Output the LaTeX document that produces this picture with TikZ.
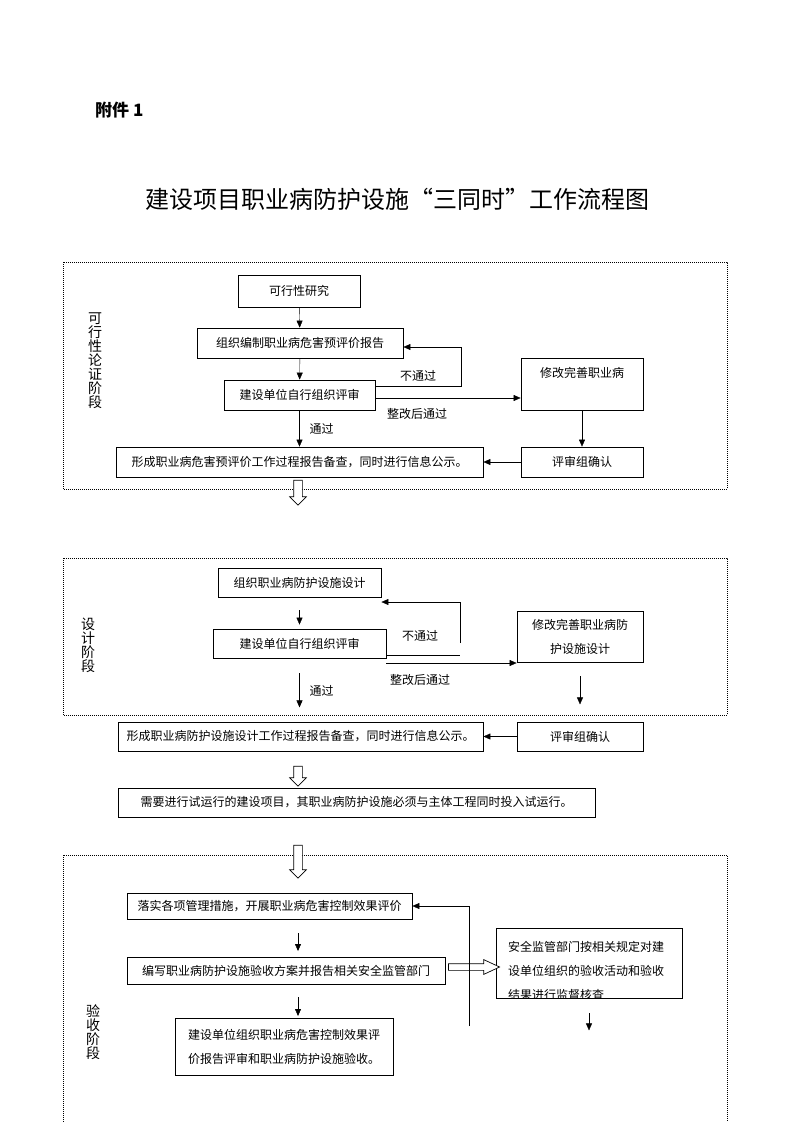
\documentclass[tikz,border=0pt]{standalone}
\usepackage{fontspec}
\setmainfont{Noto Sans CJK SC}
\usetikzlibrary{arrows.meta,shapes.arrows}
\newcommand\boxfont{\fontsize{12pt}{24pt}\selectfont}

\begin{document}
\begin{tikzpicture}[x=1pt,y=-1pt,>={Triangle[length=7pt,width=6pt]},
    box/.style={draw,line width=0.8pt,inner sep=0pt,font=\boxfont},
    lbl/.style={font=\boxfont,inner sep=0pt},
    side/.style={font=\fontsize{14pt}{14pt}\selectfont,align=center,inner sep=0pt},
    dotline/.style={line width=0.6pt,dash pattern=on 0.6pt off 1.4pt},
    fat/.style={single arrow,draw,fill=white,line width=0.7pt,inner xsep=0pt,inner ysep=4pt,single arrow head extend=4pt}]
    \useasboundingbox (0,0) rectangle (793,1122);

    \node[font=\fontsize{17pt}{17pt}\selectfont\bfseries,anchor=west,inner sep=0pt] (hd) at (95,110) {附件 1};
    \node[font=\fontsize{24pt}{24pt}\selectfont,inner sep=0pt] (tt) at (397,199) {建设项目职业病防护设施“三同时”工作流程图};

    % feasibility stage
    \draw[dotline] (63,262) rectangle (727,489);
    \node[side] (p1) at (95,361) {可\\行\\性\\论\\证\\阶\\段};
    \node[box,minimum width=122pt,minimum height=32pt] (a1) at (299,291) {可行性研究};
    \node[box,minimum width=206pt,minimum height=30pt] (a2) at (300,343) {组织编制职业病危害预评价报告};
    \node[box,minimum width=151pt,minimum height=30pt] (a3) at (299.5,395) {建设单位自行组织评审};
    \node[box,minimum width=122pt,minimum height=52pt,align=center] (a4) at (582,384) {修改完善职业病\\\mbox{}};
    \node[box,minimum width=122pt,minimum height=30pt] (a5) at (582,462) {评审组确认};
    \node[box,minimum width=367pt,minimum height=30pt] (a6) at (299.5,462) {形成职业病危害预评价工作过程报告备查，同时进行信息公示。};

    \draw[->] (a1) -- (a2);
    \draw[->] (a2) -- (a3);
    \draw[->] (a3) -- node[lbl,right=10pt] {通过} (a6);
    \draw[->] ([yshift=9pt]a3.east) -- ++(86,0) |- ([yshift=-4pt]a2.east);
    \node[lbl] (n1) at (418,376) {不通过};
    \coordinate (c1) at (375,398);
    \draw[->] (c1) -- (c1 -| a4.west);
    \node[lbl] (n2) at (417,414) {整改后通过};
    \draw[->] (a4) -- (a5);
    \draw[->] (a5) -- (a6);
    \node[fat,rotate=-90,minimum height=25pt] (f1) at (298,490.5) {};

    % design stage
    \draw[dotline] (63,558) rectangle (727,715);
    \node[side] (p2) at (88,645) {设\\计\\阶\\段};
    \node[box,minimum width=163pt,minimum height=29pt] (b1) at (299.5,582.5) {组织职业病防护设施设计};
    \node[box,minimum width=173pt,minimum height=29pt] (b2) at (299.5,643.5) {建设单位自行组织评审};
    \node[box,minimum width=126pt,minimum height=51pt,align=center] (b3) at (580,636.5) {修改完善职业病防\\护设施设计};

    \draw[->] ([yshift=-13pt]b1.south) -- ([yshift=4pt]b2.north);
    \coordinate (c2) at (460,643);
    \coordinate (c3) at (460,602);
    \draw[->] (c2) -- (c3) -- (c3 -| b1.east);
    \draw ([yshift=-11.5pt]b2.east) -- ++(74,0);
    \coordinate (c4) at (386,663);
    \draw[->] (c4) -- (c4 -| b3.west);
    \node[lbl] (n3) at (420,636) {不通过};
    \node[lbl] (n4) at (420,680) {整改后通过};
    \draw[->] ([yshift=-15pt]b2.south) -- node[lbl,right=10pt] {通过} ++(0,34);
    \draw[->] ([yshift=-14pt]b3.south) -- ++(0,28);

    \node[box,minimum width=365pt,minimum height=29pt] (b4) at (300.5,736.5) {形成职业病防护设施设计工作过程报告备查，同时进行信息公示。};
    \node[box,minimum width=126pt,minimum height=29pt] (b5) at (580,736.5) {评审组确认};
    \draw[->] (b5) -- (b4);
    \node[fat,rotate=-90,minimum height=20pt] (f2) at (298,774) {};
    \node[box,minimum width=477pt,minimum height=29pt] (b6) at (356.5,802.5) {需要进行试运行的建设项目，其职业病防护设施必须与主体工程同时投入试运行。};

    % acceptance stage
    \draw[dotline] (63,1122) -- (63,855) -- (727,855) -- (727,1122);
    \node[fat,rotate=-90,minimum height=33pt] (f3) at (298,859.5) {};
    \node[side] (p3) at (93,1032) {验\\收\\阶\\段};
    \node[box,minimum width=285pt,minimum height=26pt] (d1) at (269.5,906) {落实各项管理措施，开展职业病危害控制效果评价};
    \node[box,minimum width=318pt,minimum height=27pt] (d2) at (286,970.5) {编写职业病防护设施验收方案并报告相关安全监管部门};
    \node[box,minimum width=186pt,minimum height=70pt] (d3) at (589,963) {};
    \begin{scope}
        \clip (d3.south west) rectangle (d3.north east);
        \node[lbl,anchor=north west,align=left] (t3) at (508,941) {安全监管部门按相关规定对建\\设单位组织的验收活动和验收\\结果进行监督核查};
    \end{scope}
    \node[box,minimum width=218pt,minimum height=57pt,align=left] (d4) at (284,1046.5) {建设单位组织职业病危害控制效果评\\价报告评审和职业病防护设施验收。};

    \coordinate (c6) at (298,933);
    \draw[->] (c6) -- ++(0,18);
    \coordinate (c7) at (298,997);
    \draw[->] (c7) -- ++(0,19);
    \node[fat,minimum height=51pt,inner ysep=3pt,single arrow tip angle=50] (f4) at (470.5,967) {};
    \coordinate (c5) at (469,1026);
    \draw[->] (c5) |- (d1.east);
    \draw[->] ([yshift=-15pt]d3.south) -- ++(0,17);
\end{tikzpicture}
\end{document}
